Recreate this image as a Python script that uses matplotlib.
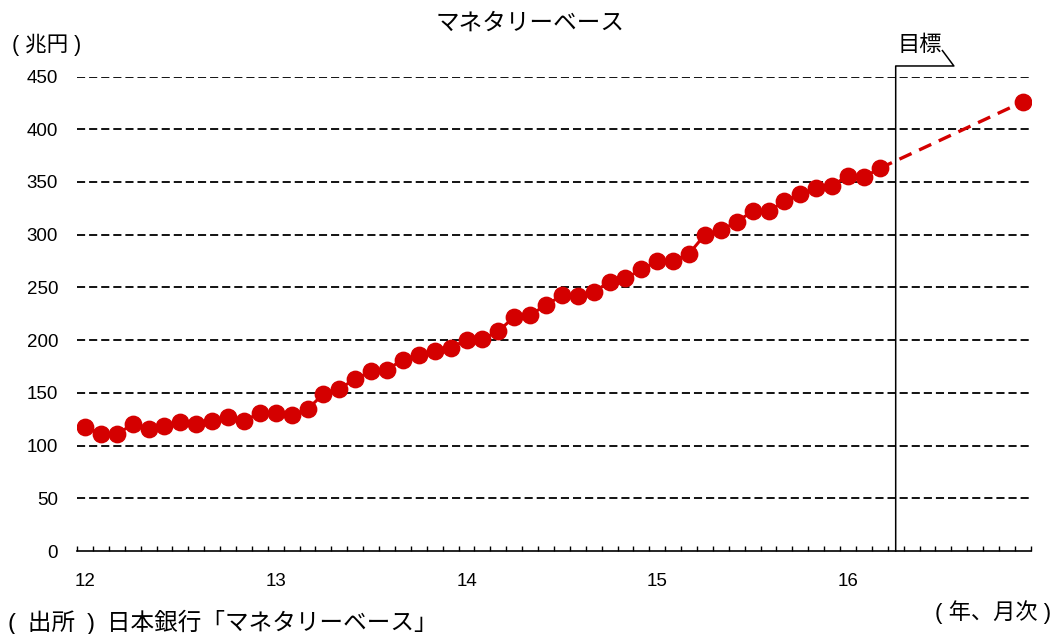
import matplotlib
matplotlib.use("Agg")
import matplotlib.pyplot as plt
import numpy as np

plt.rcParams['font.family'] = ['Liberation Sans', 'Noto Sans CJK JP', 'DejaVu Sans']

# monthly average, 2012/1 .. 2016/3 (trillion yen)
base = [118, 111, 111, 120, 116, 119, 122.5, 120, 123.5, 127, 123.5, 131,
        131, 129, 134.5, 149, 154, 163, 170.5, 172, 181.5, 186, 189.5, 193,
        200, 201, 208.5, 222, 224, 233, 242.5, 242, 245.5, 255.5, 258.5, 267,
        275, 275, 282, 300, 304, 312.5, 322, 322, 332, 338.5, 344, 346.5,
        356, 354.5, 363]
target = 426          # end-2016 target
n_months = 60         # 2012/1 .. 2016/12
years = ["12", "13", "14", "15", "16"]
yticks = [0, 50, 100, 150, 200, 250, 300, 350, 400, 450]
RED = "#d40000"

fig = plt.figure(figsize=(10.54, 6.34), dpi=100)
ax = fig.add_axes([0.0731, 0.1309, 0.9049, 0.7484])

x = np.arange(len(base))
ax.plot(x, base, color=RED, lw=2.2, marker="o", ms=11.8, zorder=3)
ax.plot([x[-1], n_months - 1], [base[-1], target], color=RED, lw=2.4,
        ls=(0, (4, 2.5)), zorder=3)
ax.plot([n_months - 1], [target], color=RED, marker="o", ms=11.8, zorder=3)

ax.set_xlim(-0.5, n_months - 0.5)
ax.set_ylim(0, 450)
ax.set_yticks(yticks)
ax.tick_params(axis="y", length=0, labelsize=13.5, pad=13.7)
for v in yticks[1:]:
    ax.axhline(v, color="black", lw=1.3, ls=(0, (4.5, 2.2)), zorder=1)

ax.set_xticks(np.arange(0, n_months, 12))
ax.set_xticklabels(years)
ax.set_xticks(np.arange(-0.5, n_months, 1), minor=True)
ax.tick_params(axis="x", which="major", length=0, labelsize=13.5, pad=16)
ax.tick_params(axis="x", which="minor", direction="in", length=3.8, width=1)
for s in ["top", "right", "left"]:
    ax.spines[s].set_visible(False)
ax.spines["bottom"].set_linewidth(1.2)

# target callout
ax.plot([51, 51, 54.66, 53.94], [0, 460, 460, 474.6], color="black", lw=1.1,
        clip_on=False, zorder=4)
ax.text(52.5, 479, "目標", ha="center", va="center", fontsize=16, clip_on=False)

fig.text(0.503, 0.962, "マネタリーベース", ha="center", va="center", fontsize=17)
fig.text(0.011, 0.929, "( 兆円 )", ha="left", va="center", fontsize=15.5)
fig.text(0.008, 0.018, "(\u2002出所\u2002)\u2002日本銀行「マネタリーベース」",
         ha="left", va="center", fontsize=17)
fig.text(0.997, 0.034, "( 年、月次 )", ha="right", va="center", fontsize=16)

fig.savefig("out.png", dpi=100)
